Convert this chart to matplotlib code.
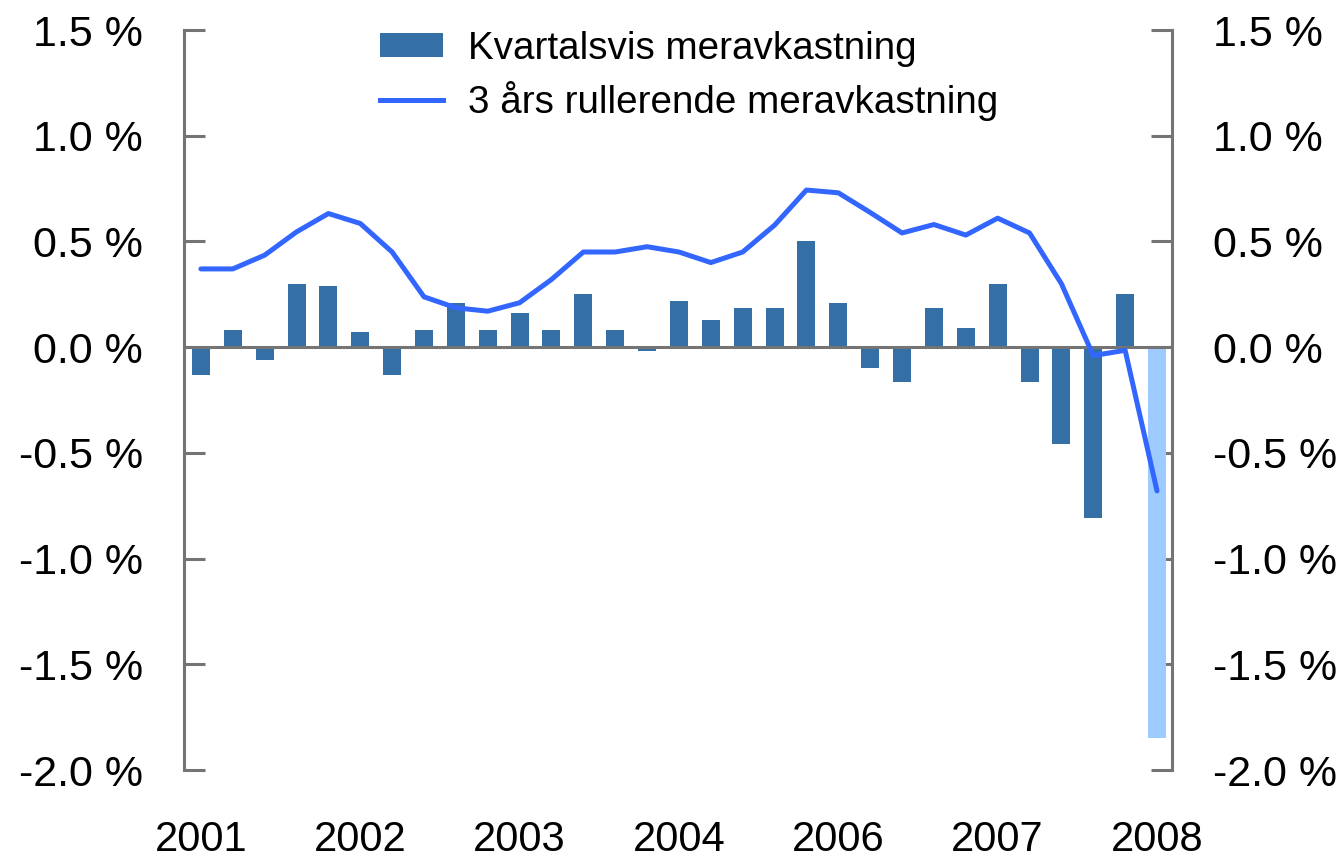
import matplotlib
matplotlib.use("Agg")
import matplotlib.pyplot as plt
from matplotlib.patches import Patch
from matplotlib.lines import Line2D

# Data
quarterly = [-0.13, 0.08, -0.06, 0.30, 0.29, 0.07, -0.13, 0.08, 0.21, 0.08,
             0.16, 0.08, 0.25, 0.08, -0.02, 0.22, 0.13, 0.185, 0.185, 0.50,
             0.21, -0.10, -0.165, 0.185, 0.09, 0.30, -0.165, -0.46, -0.81, 0.25,
             -1.85]
rolling3y = [0.37, 0.37, 0.435, 0.545, 0.632, 0.585, 0.45, 0.238, 0.186, 0.17,
             0.21, 0.32, 0.45, 0.45, 0.475, 0.45, 0.40, 0.45, 0.577, 0.743,
             0.73, 0.637, 0.54, 0.58, 0.53, 0.61, 0.54, 0.30, -0.04, -0.015,
             -0.68]
xtick_pos = [0, 5, 10, 15, 20, 25, 30]
xtick_labels = ["2001", "2002", "2003", "2004", "2006", "2007", "2008"]
yticks = [1.5, 1.0, 0.5, 0.0, -0.5, -1.0, -1.5, -2.0]
ytick_labels = ["1.5 %", "1.0 %", "0.5 %", "0.0 %", "-0.5 %", "-1.0 %", "-1.5 %", "-2.0 %"]

bar_color = "#3470A6"
last_color = "#9ECBFF"
line_color = "#3366FF"
axis_color = "#747474"

plt.rcParams['font.family'] = ['Liberation Sans', 'DejaVu Sans']

fig = plt.figure(figsize=(13.44, 8.59), dpi=100)
ax = fig.add_axes([184/1344, 89/859, (1172-184)/1344, 740/859])

x = list(range(len(quarterly)))
colors = [bar_color] * (len(quarterly) - 1) + [last_color]
ax.bar(x, quarterly, width=0.565, color=colors, zorder=2)
ax.axhline(0, color=axis_color, lw=2.2, zorder=3)
ax.plot(x, rolling3y, color=line_color, lw=3.6, zorder=4, solid_capstyle='round')

ax.set_xlim(-0.53, 30.47)
ax.set_ylim(-2.0, 1.5)

for s in ['top', 'bottom']:
    ax.spines[s].set_visible(False)
for s in ['left', 'right']:
    ax.spines[s].set_color(axis_color)
    ax.spines[s].set_linewidth(2.2)

ax.set_yticks(yticks)
ax.set_yticklabels(ytick_labels, fontsize=31)
ax.tick_params(axis='y', direction='in', length=15, width=2.2, color=axis_color,
               left=True, right=True, labelleft=True, labelright=True, pad=29.5)
ax.set_xticks(xtick_pos)
ax.set_xticklabels(xtick_labels, fontsize=30)
ax.tick_params(axis='x', length=0, pad=36)

handles = [Patch(facecolor=bar_color, edgecolor='none'),
           Line2D([0], [0], color=line_color, lw=3.6)]
ax.legend(handles, ["Kvartalsvis meravkastning", "3 års rullerende meravkastning"],
          loc='upper left', bbox_to_anchor=(0.198, 0.999), frameon=False,
          prop={'size': 27.8},
          handlelength=1.63, handleheight=0.55, handletextpad=0.65, labelspacing=0.36,
          borderaxespad=0, borderpad=0)

fig.savefig("out.png", dpi=100)
